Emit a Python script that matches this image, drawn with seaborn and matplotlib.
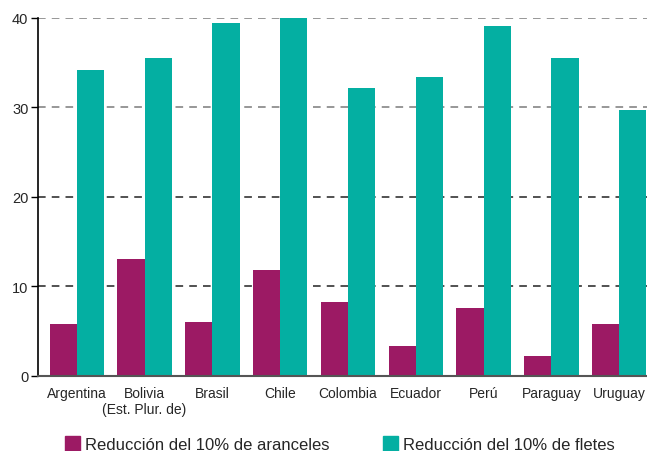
import numpy as np
import pandas as pd
import seaborn as sns
import matplotlib.pyplot as plt
from matplotlib.patches import Patch

# Data
paises = ["Argentina", "Bolivia\n(Est. Plur. de)", "Brasil", "Chile", "Colombia",
          "Ecuador", "Perú", "Paraguay", "Uruguay"]
aranceles = [5.8, 13.0, 6.0, 11.8, 8.2, 3.3, 7.6, 2.2, 5.8]
fletes = [34.2, 35.5, 39.4, 40.0, 32.1, 33.4, 39.0, 35.5, 29.7]
series = ["Reducción del 10% de aranceles", "Reducción del 10% de fletes"]
colores = ["#9C1A64", "#04AFA2"]

df = pd.DataFrame({
    "pais": paises * 2,
    "valor": aranceles + fletes,
    "serie": [series[0]] * len(paises) + [series[1]] * len(paises),
})

sns.set_style("white")
plt.rcParams["font.family"] = ["Liberation Sans", "DejaVu Sans"]

fig = plt.figure(figsize=(6.47, 4.52), dpi=100)
ax = fig.add_axes([0.059, 0.166, 0.941, 0.793])

sns.barplot(data=df, x="pais", y="valor", hue="serie", palette=colores,
            width=0.8, saturation=1, ax=ax, legend=False,
            edgecolor="none", linewidth=0)

ax.set_xlim(-0.57, 8.41)
ax.set_ylim(0, 40)
ax.set_yticks([0, 10, 20, 30, 40])
ax.set_xlabel("")
ax.set_ylabel("")

# dashed grid lines, upper ones lighter
for y, c in [(10, "#222222"), (20, "#222222"), (30, "#7a7a7a"), (40, "#7a7a7a")]:
    ax.axhline(y, color=c, lw=1.1, ls=(0, (5, 4)), zorder=0)

for s in ["top", "right"]:
    ax.spines[s].set_visible(False)
ax.spines["left"].set_color("black")
ax.spines["left"].set_linewidth(1.2)
ax.spines["bottom"].set_color("#555555")
ax.spines["bottom"].set_linewidth(1.5)

ax.tick_params(axis="y", length=5, width=1, color="black", labelsize=10.5, pad=2, left=True)
ax.tick_params(axis="x", length=0, labelsize=10, pad=7)

handles = [Patch(color=c) for c in colores]
fig.legend(handles, series, loc="lower left", bbox_to_anchor=(0.078, -0.035), ncol=2,
           frameon=False, fontsize=12, handlelength=0.9, handleheight=1.0,
           handletextpad=0.3, columnspacing=3.2)

fig.savefig("out.png", dpi=100)
